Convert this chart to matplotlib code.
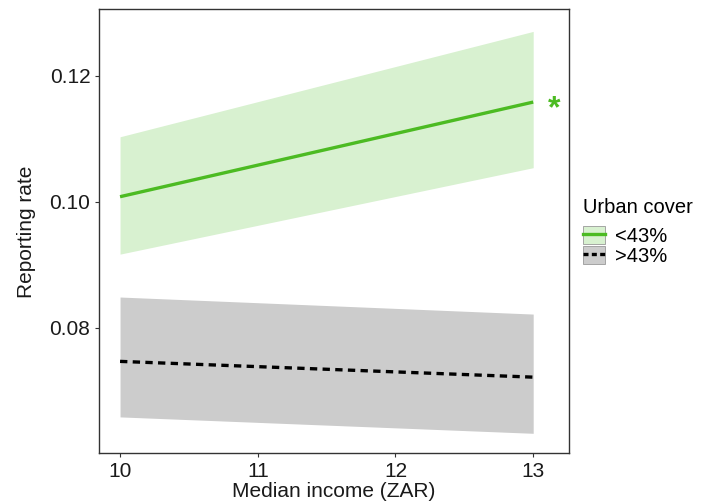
import numpy as np
import matplotlib.pyplot as plt
from matplotlib.patches import Patch
from matplotlib.lines import Line2D
from matplotlib.legend_handler import HandlerTuple

plt.rcParams['font.family'] = ['Liberation Sans', 'DejaVu Sans']

# data (straight fitted lines, endpoints at 10 and 13)
income = [10, 13]
low_fit = [0.1008, 0.1158]
low_lo = [0.0917, 0.1054]
low_hi = [0.1103, 0.1270]
high_fit = [0.0747, 0.0722]
high_lo = [0.0659, 0.0633]
high_hi = [0.0849, 0.0822]
labels = ['<43%', '>43%']

green = '#4cbb22'
green_fill = '#d8f1d0'
grey_fill = '#cccccc'

fig = plt.figure(figsize=(7.01, 5.04), dpi=100)
ax = fig.add_axes([0.1408, 0.1002, 0.6709, 0.8813])

ax.fill_between(income, low_lo, low_hi, color=green_fill, lw=0)
ax.fill_between(income, high_lo, high_hi, color=grey_fill, lw=0)
ax.plot(income, low_fit, color=green, lw=2.4, solid_capstyle='butt')
ax.plot(income, high_fit, color='black', lw=2.4, ls=(0, (2.2, 1.6)))

# significance star
ax.text(13.15, low_fit[1] - 0.0012, '*', color=green, fontsize=23, fontweight='bold',
        ha='center', va='center')

ax.set_xlim(9.845, 13.26)
ax.set_ylim(0.0601, 0.1305)
ax.set_xticks([10, 11, 12, 13])
ax.set_yticks([0.08, 0.10, 0.12])
ax.set_yticklabels(['0.08', '0.10', '0.12'])
ax.tick_params(labelsize=15, length=3, color='#333333', labelcolor='#1a1a1a', pad=3)
for s in ax.spines.values():
    s.set_color('#333333')
    s.set_linewidth(1.0)

ax.set_xlabel('Median income (ZAR)', fontsize=15, color='#1a1a1a', labelpad=1)
ax.set_ylabel('Reporting rate', fontsize=15, color='#1a1a1a', labelpad=10)

h1 = (Patch(facecolor=green_fill, edgecolor='#999999', lw=0.6),
      Line2D([], [], color=green, lw=2.4))
h2 = (Patch(facecolor=grey_fill, edgecolor='#999999', lw=0.6),
      Line2D([], [], color='black', lw=2.4, ls=(0, (1.5, 1.0))))
leg = fig.legend([h1, h2], labels, title='Urban cover',
                 handler_map={tuple: HandlerTuple(ndivide=1, pad=0)},
                 loc='upper left', bbox_to_anchor=(0.823, 0.62),
                 frameon=False, fontsize=14.5, title_fontsize=14.5,
                 handlelength=1.1, handleheight=1.0, handletextpad=0.5,
                 labelspacing=0.0, borderaxespad=0, borderpad=0.3)
leg._legend_box.align = 'left'
leg._legend_box.sep = 7

fig.savefig('out.png', dpi=100)
